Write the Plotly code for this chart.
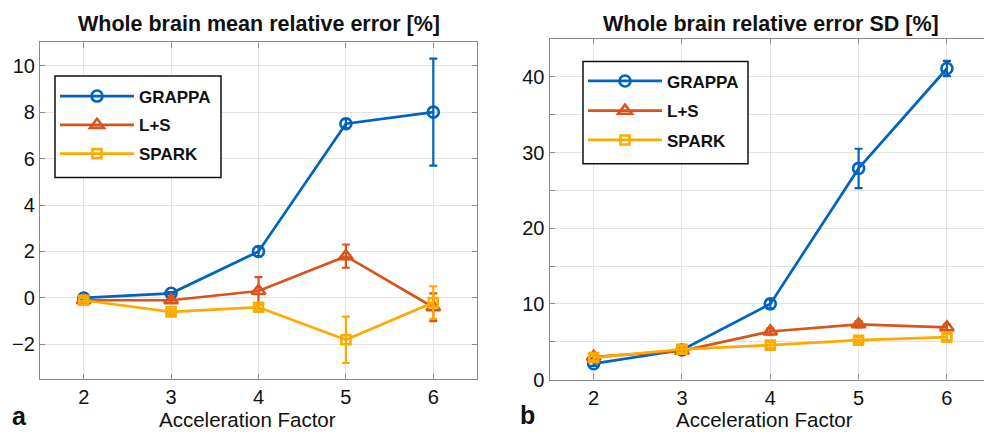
import plotly.graph_objects as go

# ---------------- data ----------------
accel = [2, 3, 4, 5, 6]
methods = ["GRAPPA", "L+S", "SPARK"]

mean_grappa = [0.0, 0.2, 2.0, 7.5, 8.0]
mean_grappa_err = [0.05, 0.05, 0.2, 0.2, 2.3]
mean_ls = [-0.1, -0.1, 0.3, 1.8, -0.4]
mean_ls_err = [0.1, 0.1, 0.6, 0.5, 0.6]
mean_spark = [-0.1, -0.6, -0.4, -1.8, -0.2]
mean_spark_err = [0.1, 0.1, 0.1, 1.0, 0.7]

sd_grappa = [2.1, 3.9, 10.0, 27.9, 41.1]
sd_grappa_err = [0.3, 0.3, 0.6, 2.6, 1.0]
sd_ls = [3.0, 3.8, 6.35, 7.3, 6.9]
sd_ls_err = [0.4, 0.4, 0.4, 0.4, 0.4]
sd_spark = [2.9, 4.0, 4.55, 5.2, 5.6]
sd_spark_err = [0.4, 0.4, 0.4, 0.4, 0.4]

left_yticks = [-2, 0, 2, 4, 6, 8, 10]
right_yticks = [0, 10, 20, 30, 40]
xticks = [2, 3, 4, 5, 6]

# ---------------- style ----------------
colors = {"GRAPPA": "#0063BE", "L+S": "#D9531A", "SPARK": "#FFAA00"}
symbols = {"GRAPPA": "circle-open", "L+S": "triangle-up-open", "SPARK": "square-open"}
sizes = {"GRAPPA": 11, "L+S": 12, "SPARK": 9}
FONT = "Liberation Sans, Arial, Helvetica, sans-serif"
AXIS_GRAY = "#8a8a8a"
GRID = "#e3e3e3"

W, H = 984, 439


def px_x(p):
    return p / W


def px_y(p):
    return 1 - p / H


# one legend per entry so the rows can be spaced like the original
left_legends = {"GRAPPA": "legend", "L+S": "legend3", "SPARK": "legend4"}
right_legends = {"GRAPPA": "legend2", "L+S": "legend5", "SPARK": "legend6"}
left_leg_y = {"GRAPPA": 99, "L+S": 128.5, "SPARK": 158}
right_leg_y = {"GRAPPA": 83.5, "L+S": 114, "SPARK": 144}

fig = go.Figure()

left_data = {
    "GRAPPA": (mean_grappa, mean_grappa_err),
    "L+S": (mean_ls, mean_ls_err),
    "SPARK": (mean_spark, mean_spark_err),
}
right_data = {
    "GRAPPA": (sd_grappa, sd_grappa_err),
    "L+S": (sd_ls, sd_ls_err),
    "SPARK": (sd_spark, sd_spark_err),
}

for axes, data, legs in (("x|y", left_data, left_legends), ("x2|y2", right_data, right_legends)):
    xa, ya = axes.split("|")
    for m in methods:
        y, e = data[m]
        fig.add_trace(go.Scatter(
            x=accel, y=y, name=m, mode="lines+markers",
            xaxis=xa, yaxis=ya, legend=legs[m],
            line=dict(color=colors[m], width=2.7),
            marker=dict(symbol=symbols[m], size=sizes[m], color=colors[m],
                        line=dict(width=2.6, color=colors[m])),
            error_y=dict(type="data", array=e, visible=True, color=colors[m],
                         thickness=2.2, width=4),
        ))

axis_common = dict(
    showline=True, linecolor=AXIS_GRAY, linewidth=1.2,
    ticks="inside", ticklen=5, tickcolor=AXIS_GRAY, tickwidth=1,
    showgrid=True, gridcolor=GRID, gridwidth=1, zeroline=False,
    tickfont=dict(family=FONT, size=20, color="#111111"),
)

leg_font = dict(family=FONT, size=17, color="#111111", weight="bold")


def leg(xpx, ypx):
    return dict(
        x=px_x(xpx), y=px_y(ypx), xanchor="left", yanchor="middle",
        bgcolor="rgba(0,0,0,0)", borderwidth=0,
        font=leg_font, itemwidth=74, tracegroupgap=0,
    )


layout_legs = {}
for m in methods:
    layout_legs[left_legends[m]] = leg(55, left_leg_y[m])
    layout_legs[right_legends[m]] = leg(583, right_leg_y[m])

fig.update_layout(
    width=W, height=H,
    margin=dict(l=0, r=0, t=0, b=0),
    paper_bgcolor="white", plot_bgcolor="white",
    font=dict(family=FONT),
    xaxis=dict(domain=[px_x(40), px_x(477)], range=[1.5, 6.5], tickvals=xticks,
               anchor="y", mirror="ticks", **axis_common),
    yaxis=dict(domain=[px_y(389), px_y(43.5)], range=[-3.5, 11], tickvals=left_yticks,
               anchor="x", mirror="ticks", **axis_common),
    xaxis2=dict(domain=[px_x(549.5), 1.0], range=[1.5, 6.42], tickvals=xticks,
                anchor="y2", mirror="ticks", **axis_common),
    yaxis2=dict(domain=[px_y(389.3), px_y(40)], range=[0, 45], tickvals=right_yticks,
                anchor="x2", mirror=False,
                minor=dict(dtick=5, showgrid=True, gridcolor=GRID, ticks="inside",
                           ticklen=5, tickcolor=AXIS_GRAY),
                **axis_common),
    showlegend=True,
    **layout_legs,
)

# legend frames
fig.update_layout(shapes=[
    dict(type="rect", xref="paper", yref="paper", layer="above",
         x0=px_x(55), x1=px_x(221), y0=px_y(182), y1=px_y(78),
         fillcolor="white", line=dict(color="#111111", width=1.5)),
    dict(type="rect", xref="paper", yref="paper", layer="above",
         x0=px_x(583), x1=px_x(748), y0=px_y(168), y1=px_y(63),
         fillcolor="white", line=dict(color="#111111", width=1.5)),
])

title_font = dict(family=FONT, size=21.5, color="#111111", weight="bold")
label_font = dict(family=FONT, size=20.5, color="#111111")
panel_font = dict(family=FONT, size=25, color="#111111", weight="bold")

annotations = [
    dict(text="Whole brain mean relative error [%]", x=px_x(258.5), y=px_y(25),
         font=title_font),
    dict(text="Whole brain relative error SD [%]", x=px_x(770.5), y=px_y(25),
         font=title_font),
    dict(text="Acceleration Factor", x=px_x(247.5), y=px_y(430), font=label_font),
    dict(text="Acceleration Factor", x=px_x(764), y=px_y(430), font=label_font),
    dict(text="a", x=px_x(19), y=px_y(427), font=panel_font),
    dict(text="b", x=px_x(527), y=px_y(426), font=panel_font),
]
for a in annotations:
    a.update(xref="paper", yref="paper", showarrow=False, xanchor="center",
             yanchor="middle", borderpad=0)
fig.update_layout(annotations=annotations)

fig.write_html("out.html")
